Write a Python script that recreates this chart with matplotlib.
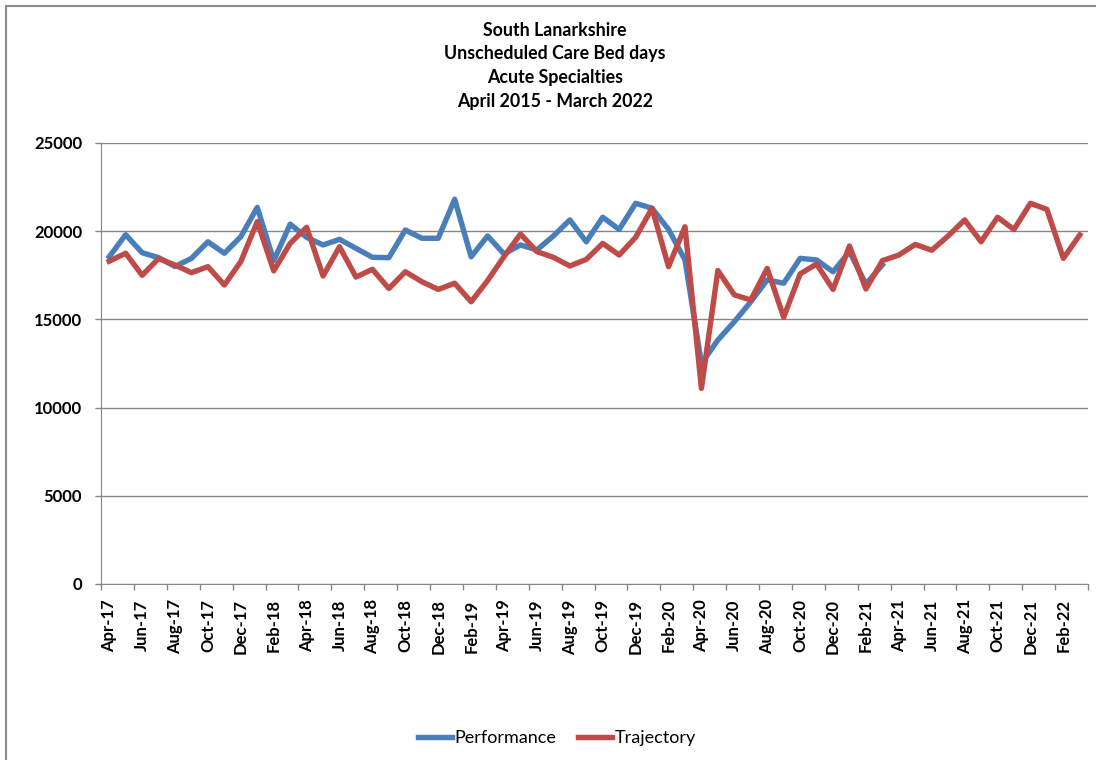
import matplotlib
matplotlib.use("Agg")
import matplotlib.pyplot as plt
from matplotlib.patches import Rectangle

months = ["Apr", "May", "Jun", "Jul", "Aug", "Sep", "Oct", "Nov", "Dec", "Jan", "Feb", "Mar"]
categories = []
for fy in range(17, 22):
    for k, m in enumerate(months):
        yr = fy if k < 9 else fy + 1
        categories.append(f"{m}-{yr}")

performance = [18550, 19800, 18780, 18500, 18000, 18460, 19400, 18750, 19690, 21350,
               18330, 20400, 19650, 19220, 19540, 19030, 18520, 18500, 20070, 19600,
               19600, 21810, 18550, 19730, 18710, 19220, 18940, 19730, 20640, 19400,
               20790, 20100, 21580, 21300, 20100, 18370, 12500, 13830, 14870, 16000,
               17240, 17050, 18460, 18370, 17700, 18840, 17000, 18090]

trajectory = [18300, 18750, 17500, 18450, 18080, 17650, 17990, 16950, 18280, 20540,
              17750, 19310, 20220, 17460, 19120, 17400, 17840, 16750, 17700, 17140,
              16700, 17050, 16000, 17200, 18560, 19840, 18840, 18520, 18030, 18400,
              19310, 18650, 19650, 21300, 17990, 20250, 11090, 17770, 16390, 16100,
              17890, 15120, 17580, 18140, 16700, 19160, 16720, 18330, 18650, 19250,
              18920, 19730, 20640, 19400, 20790, 20100, 21580, 21240, 18460, 19790]

title_lines = ["South Lanarkshire", "Unscheduled Care Bed days",
               "Acute Specialties", "April 2015 - March 2022"]
yticks = [0, 5000, 10000, 15000, 20000, 25000]

plt.rcParams['font.family'] = ['Lato', 'DejaVu Sans']

fig = plt.figure(figsize=(10.96, 7.6), dpi=100)
ax = fig.add_axes([101/1096, 1-584/760, (1088-101)/1096, (584-143)/760])

blue = "#4A7EBB"
red = "#BE4B48"
grid = "#868686"

x_perf = range(len(performance))
x_traj = range(len(trajectory))
ax.plot(x_perf, performance, color=blue, lw=3.9, label="Performance", solid_joinstyle="round", zorder=3)
ax.plot(x_traj, trajectory, color=red, lw=3.9, label="Trajectory", solid_joinstyle="round", zorder=4)

n = len(categories)
ax.set_xlim(-0.5, n - 0.5)
ax.set_ylim(0, 25000)
ax.set_yticks(yticks)
ax.set_yticklabels([str(v) for v in yticks], fontweight="bold", fontsize=12)
for v in yticks:
    ax.axhline(v, color=grid, lw=1.0, zorder=1)

ax.set_xticks(range(0, n, 2))
ax.set_xticklabels(categories[::2], rotation=90, fontweight="bold", fontsize=12)
ax.set_xticks([i - 0.5 for i in range(0, n + 1, 2)], minor=True)
ax.tick_params(axis="x", which="major", length=0, pad=11)
ax.tick_params(axis="x", which="minor", length=4.5, color=grid, width=1)
ax.tick_params(axis="y", length=4.5, color=grid, width=1, pad=9)

for s in ["top", "right"]:
    ax.spines[s].set_visible(False)
ax.spines["left"].set_color(grid)
ax.spines["bottom"].set_color(grid)

for i, line in enumerate(title_lines):
    fig.text(555/1096, 1 - (30 + i*23.7)/760, line, ha="center", va="center",
             fontweight="bold", fontsize=12.8)

leg = fig.legend(loc="center", bbox_to_anchor=(557/1096, 1-738/760), ncol=2, frameon=False,
                 fontsize=13, handlelength=1.9, handletextpad=0.15, columnspacing=1.2)

fig.patches.append(Rectangle((6/1096, -0.1), 1.2, 1 - 6/760 + 0.1, transform=fig.transFigure,
                             fill=False, edgecolor="#8c8c8c", lw=1.5))

fig.savefig("out.png", dpi=100)
